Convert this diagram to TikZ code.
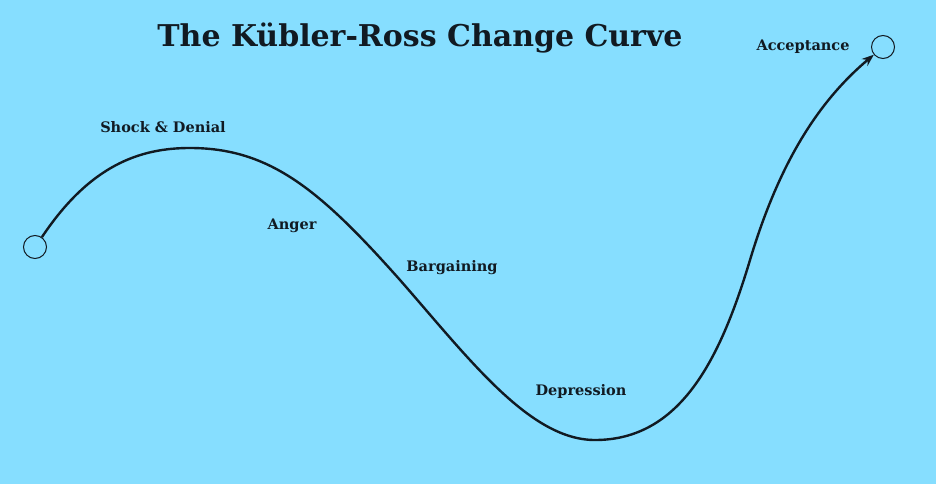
\documentclass[tikz,border=0pt]{standalone}
\usepackage{fontspec}
\setmainfont{DejaVu Serif}
\usetikzlibrary{positioning,arrows.meta}
\definecolor{bgblue}{HTML}{86DEFF}
\definecolor{ink}{HTML}{111A22}
\tikzset{
  stage/.style={font=\bfseries\fontsize{14.5}{16}\selectfont, text=ink},
  endpt/.style={circle, draw=ink, minimum width=23pt, inner sep=0pt, line width=1pt}
}
\begin{document}
\begin{tikzpicture}[x=1pt,y=-1pt]
\fill[bgblue] (0,0) rectangle (936,484);
\useasboundingbox (0,0) rectangle (936,484);
\node[font=\bfseries\fontsize{30}{34}\selectfont, text=ink] (title) at (420,38) {The Kübler-Ross Change Curve};
\node[endpt] (s) at (35,247) {};
\node[endpt] (e) at (883,47) {};
\node[stage] (shock) at (163,127) {Shock \& Denial};
\node[stage] (anger) at (292,226) {Anger};
\node[stage] (barg) at (452,268) {Bargaining};
\node[stage] (depr) at (581,391) {Depression};
\node[stage] (acc) at (803,47) {Acceptance};
\draw[ink, line width=2.4pt, -{Stealth[length=12pt,width=9pt]}] (s.55)
  .. controls (90,165) and (140,148) .. (190,148)
  .. controls (270,148) and (320,190) .. (400,280)
  .. controls (470,360) and (530,440) .. (595,440)
  .. controls (680,440) and (720,360) .. (750,260)
  .. controls (780,160) and (820,100) .. (e.220);
\end{tikzpicture}
\end{document}
